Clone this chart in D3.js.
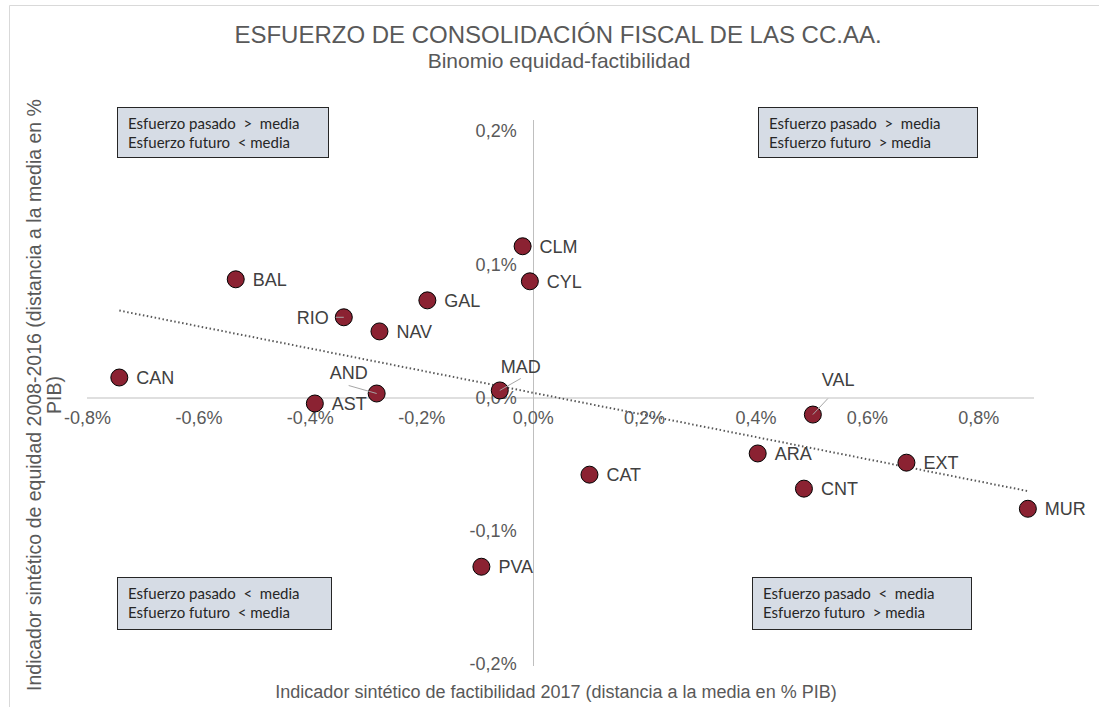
<!DOCTYPE html>
<html>
<head>
<meta charset="utf-8">
<script src="https://cdn.jsdelivr.net/npm/d3@7/dist/d3.min.js"></script>
<style>
  html, body { margin: 0; padding: 0; background: #fff; }
  svg { display: block; }
</style>
</head>
<body>
<svg id="chart" width="1099" height="707"></svg>
<script>
// ---- Data (values in % of GDP) ----
const regions = ["CAN","BAL","RIO","NAV","GAL","AND","AST","CLM","CYL","MAD","VAL","CAT","ARA","CNT","EXT","MUR","PVA"];
const factibilidad = [-0.742,-0.533,-0.339,-0.275,-0.189,-0.280,-0.391,-0.018,-0.005,-0.059,0.503,0.102,0.404,0.487,0.671,0.889,-0.092];
const equidad = [0.0150,0.0887,0.0602,0.0496,0.0729,0.0030,-0.0045,0.1135,0.0872,0.0053,-0.0128,-0.0579,-0.0420,-0.0684,-0.0489,-0.0835,-0.1270];
const xTicks = [-0.8,-0.6,-0.4,-0.2,0.0,0.2,0.4,0.6,0.8];
const yTicks = [-0.2,-0.1,0.0,0.1,0.2];
const quadrantTexts = [
  ["Esfuerzo pasado  >  media","Esfuerzo futuro  < media"],
  ["Esfuerzo pasado  >  media","Esfuerzo futuro  > media"],
  ["Esfuerzo pasado  <  media","Esfuerzo futuro  < media"],
  ["Esfuerzo pasado  <  media","Esfuerzo futuro  > media"]
];
const titleText = "ESFUERZO DE CONSOLIDACIÓN FISCAL DE LAS CC.AA.";
const subtitleText = "Binomio equidad-factibilidad";
const xTitle = "Indicador sintético de factibilidad 2017 (distancia a la media en % PIB)";
const yTitleLines = ["Indicador sintético de equidad 2008-2016 (distancia a la media en %","PIB)"];

// ---- Layout / style (not data) ----
const labelPlacement = {
  RIO: {dx:-47, dy:0, leader:[-8,0,0,0]},
  AND: {dx:-47, dy:-21, leader:[-28,-8,0,0]},
  MAD: {dx:1, dy:-24, leader:[21,-12,0,0]},
  VAL: {dx:9, dy:-35, leader:[15,-16,0,0]}
};
const quadBoxes = [
  {x:117, y:107, w:211, h:50},
  {x:758, y:107, w:219, h:50},
  {x:117, y:577, w:214, h:52},
  {x:752, y:577, w:219, h:52}
];
const fontMain = "'Liberation Sans', Arial, sans-serif";
const textGrey = "#595959";
const fs = 18;

const svg = d3.select("#chart");

// frame
svg.append("path").attr("d","M9.5,707 L9.5,5.5 L1099,5.5")
  .attr("fill","none").attr("stroke","#d9d9d9").attr("stroke-width",1);

// scales
const x = d3.scaleLinear().domain([-0.8, 0.9]).range([87, 1034]);
const y = d3.scaleLinear().domain([-0.2, 0.2]).range([664, 131]);
const fmt = v => d3.format(".1f")(v).replace("−","-").replace(".", ",") + "%";

// axes lines through origin
svg.append("line").attr("x1", x(-0.8)).attr("x2", x(0.9)).attr("y1", y(0)+0.5).attr("y2", y(0)+0.5)
  .attr("stroke","#bfbfbf").attr("stroke-width",1);
svg.append("line").attr("x1", Math.round(x(0))+0.5).attr("x2", Math.round(x(0))+0.5).attr("y1", y(0.2)-11).attr("y2", y(-0.2)+2)
  .attr("stroke","#bfbfbf").attr("stroke-width",1);

// x tick labels (using d3 axis, lines hidden)
const xAxis = d3.axisBottom(x).tickValues(xTicks).tickFormat(fmt).tickSize(0).tickPadding(0);
const gx = svg.append("g").attr("transform", `translate(0,${y(0)+14})`).call(xAxis);
gx.select(".domain").remove();
gx.selectAll("text").attr("font-family", fontMain).attr("font-size", fs).attr("fill", textGrey).attr("dy","0.71em");

// y tick labels
const yAxis = d3.axisLeft(y).tickValues(yTicks).tickFormat(fmt).tickSize(0).tickPadding(0);
const gy = svg.append("g").attr("transform", `translate(${x(0)-16},0)`).call(yAxis);
gy.select(".domain").remove();
gy.selectAll("text").attr("font-family", fontMain).attr("font-size", fs).attr("fill", textGrey);

// trendline (least squares from data)
const n = regions.length;
const mx = d3.mean(factibilidad), my = d3.mean(equidad);
let sxy = 0, sxx = 0;
for (let i = 0; i < n; i++) { sxy += (factibilidad[i]-mx)*(equidad[i]-my); sxx += (factibilidad[i]-mx)**2; }
const slope = sxy / sxx, intercept = my - slope*mx;
const [xmin, xmax] = d3.extent(factibilidad);
svg.append("line")
  .attr("x1", x(xmin)).attr("y1", y(intercept + slope*xmin))
  .attr("x2", x(xmax)).attr("y2", y(intercept + slope*xmax))
  .attr("stroke","#595959").attr("stroke-width",2).attr("stroke-dasharray","1.5,2.5");

// quadrant boxes
quadBoxes.forEach((b, i) => {
  const g = svg.append("g");
  g.append("rect").attr("x", b.x+0.5).attr("y", b.y+0.5).attr("width", b.w).attr("height", b.h)
    .attr("fill","#d6dce5").attr("stroke","#262626").attr("stroke-width",1);
  quadrantTexts[i].forEach((t, j) => {
    g.append("text").attr("x", b.x+11).attr("y", b.y+22+j*19)
      .attr("font-family","Lato, 'Open Sans', sans-serif").attr("font-size",15)
      .attr("fill","#262626").style("white-space","pre").text(t);
  });
});

// points data
const pts = regions.map((r, i) => ({name:r, fx:factibilidad[i], eq:equidad[i]}));

// markers
svg.append("g").selectAll("circle").data(pts).join("circle")
  .attr("cx", d => x(d.fx)).attr("cy", d => y(d.eq)).attr("r", 8.5)
  .attr("fill","#8b2232").attr("stroke","#000").attr("stroke-width",1);

// leader lines
pts.forEach(p => {
  const lp = labelPlacement[p.name];
  if (lp && lp.leader) {
    svg.append("line")
      .attr("x1", x(p.fx)+lp.leader[0]).attr("y1", y(p.eq)+lp.leader[1])
      .attr("x2", x(p.fx)+lp.leader[2]).attr("y2", y(p.eq)+lp.leader[3])
      .attr("stroke","#a6a6a6").attr("stroke-width",1);
  }
});

// labels
svg.append("g").selectAll("text").data(pts).join("text")
  .attr("x", d => x(d.fx) + (labelPlacement[d.name] ? labelPlacement[d.name].dx : 17))
  .attr("y", d => y(d.eq) + (labelPlacement[d.name] ? labelPlacement[d.name].dy : 0))
  .attr("dy","0.35em")
  .attr("font-family", fontMain).attr("font-size", fs).attr("fill","#404040")
  .text(d => d.name);

// titles
svg.append("text").attr("x", 558).attr("y", 43).attr("text-anchor","middle")
  .attr("font-family", fontMain).attr("font-size", 24).attr("fill", textGrey).text(titleText);
svg.append("text").attr("x", 559).attr("y", 68).attr("text-anchor","middle")
  .attr("font-family", fontMain).attr("font-size", 21).attr("fill", textGrey).text(subtitleText);

// axis titles
svg.append("text").attr("x", 556).attr("y", 698).attr("text-anchor","middle")
  .attr("font-family", fontMain).attr("font-size", fs).attr("fill", textGrey).text(xTitle);
const yt = svg.append("text").attr("transform","translate(41,395) rotate(-90)").attr("text-anchor","middle")
  .attr("font-family", fontMain).attr("font-size", 19.5).attr("fill", textGrey);
yTitleLines.forEach((t, i) => yt.append("tspan").attr("x", 0).attr("dy", i === 0 ? 0 : 20).text(t));
</script>
</body>
</html>
